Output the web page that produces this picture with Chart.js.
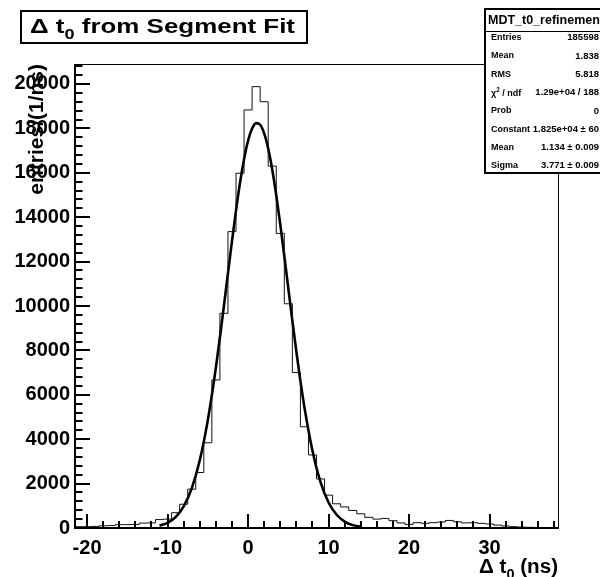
<!DOCTYPE html>
<html>
<head>
<meta charset="utf-8">
<script src="https://cdn.jsdelivr.net/npm/chart.js@4"></script>
<style>
  html, body { margin: 0; padding: 0; background: #fff; }
  #wrap { width: 600px; height: 577px; }
</style>
</head>
<body>
<div id="wrap"><canvas id="t0Chart" width="600" height="577"></canvas></div>
<script>
// histogram bins (centers, ns) and entries
const binCenters = [
	-21, -20, -19, -18, -17, -16, -15, -14, -13, -12,
	-11, -10, -9, -8, -7, -6, -5, -4, -3, -2,
	-1, 0, 1, 2, 3, 4, 5, 6, 7, 8,
	9, 10, 11, 12, 13, 14, 15, 16, 17, 18,
	19, 20, 21, 22, 23, 24, 25, 26, 27, 28,
	29, 30, 31, 32, 33, 34, 35, 36, 37, 38
];
const entries = [
	60, 60, 70, 100, 110, 150, 150, 160, 220, 230,
	380, 400, 690, 1070, 1750, 2500, 3840, 6670, 9670, 13350,
	15980, 18830, 19880, 19200, 16300, 13270, 10100, 7000, 4560, 3290,
	2210, 1480, 1090, 950, 790, 640, 480, 400, 430, 330,
	230, 160, 240, 210, 240, 270, 340, 280, 230, 240,
	210, 180, 130, 90, 60, 40, 30, 20, 20, 20
];

// gaussian fit curve
const fitX = [-11, -10, -9, -8, -7, -6, -5, -4, -3, -2.5, -2, -1.5, -1, -0.5, 0, 0.5, 1, 1.5, 2,
	2.5, 3, 3.5, 4, 4.5, 5, 5.5, 6, 6.5, 7, 8, 9, 10, 11, 12, 13, 14];
const fitY = [103, 233, 493, 971, 1783, 3050, 4860, 7223, 10007, 11472, 12920, 14299, 15550, 16615, 17443, 17994, 18239, 18164, 17775,
	17091, 16148, 14989, 13673, 12253, 10791, 9337, 7937, 6630, 5442, 3479, 2071, 1150, 596, 287, 129, 54];

// axis labels
const xTickLabels = [-20, -10, 0, 10, 20, 30];
const yTickLabels = [0, 2000, 4000, 6000, 8000, 10000, 12000, 14000, 16000, 18000, 20000];

const binWidth = 1;
const xMin = -21.5, xMax = 38.5;
const yMin = 0, yMax = 20900;

const statsTitle = "MDT_t0_refinement";
const statsLabels = ["Entries", "Mean", "RMS", "χ2 / ndf", "Prob", "Constant", "Mean", "Sigma"];
const statsValues = ["185598", "1.838", "5.818", "1.29e+04 / 188", "0", "1.825e+04 ± 60", "1.134 ± 0.009", "3.771 ± 0.009"];

const FONT = "Liberation Sans, Arial, Helvetica, sans-serif";

function histPoints() {
	const pts = [{ x: binCenters[0] - binWidth / 2, y: 0 }];
	binCenters.forEach((c, i) => {
		pts.push({ x: c - binWidth / 2, y: entries[i] });
	});
	const last = binCenters[binCenters.length - 1] + binWidth / 2;
	pts.push({ x: last, y: entries[entries.length - 1] });
	pts.push({ x: last, y: 0 });
	return pts;
}

// text with a sub/superscript piece: parts = [[text, "n"|"sub"|"sup"], ...]
// fitW stretches the whole string horizontally to that width
function richText(ctx, parts, x, y, size, align, fitW) {
	const widths = parts.map(p => {
		ctx.font = `bold ${p[1] === "n" ? size : size * 0.7}px ${FONT}`;
		return ctx.measureText(p[0]).width;
	});
	const total = widths.reduce((a, b) => a + b, 0);
	const sx = fitW ? fitW / total : 1;
	const w = total * sx;
	let cx = align === "right" ? x - w : (align === "center" ? x - w / 2 : x);
	ctx.save();
	ctx.translate(cx, y);
	ctx.scale(sx, 1);
	ctx.textAlign = "left";
	ctx.textBaseline = "alphabetic";
	let px = 0;
	parts.forEach((p, i) => {
		let dy = 0;
		if (p[1] === "sub") dy = size * 0.28;
		if (p[1] === "sup") dy = -size * 0.38;
		ctx.font = `bold ${p[1] === "n" ? size : size * 0.7}px ${FONT}`;
		ctx.fillText(p[0], px, dy);
		px += widths[i];
	});
	ctx.restore();
}

const rootFrame = {
	id: "rootFrame",
	afterDatasetsDraw(chart) {
		const { ctx, chartArea: a, scales: { x, y } } = chart;
		ctx.save();
		ctx.strokeStyle = "#000";

		// frame
		ctx.lineWidth = 1;
		ctx.beginPath();
		ctx.moveTo(a.left, a.top + 0.5);
		ctx.lineTo(a.right + 0.5, a.top + 0.5);
		ctx.lineTo(a.right + 0.5, a.bottom);
		ctx.stroke();
		ctx.lineWidth = 2;
		ctx.beginPath();
		ctx.moveTo(a.left, a.top);
		ctx.lineTo(a.left, a.bottom);
		ctx.lineTo(a.right + 1, a.bottom);
		ctx.stroke();

		// ticks inside the frame
		ctx.lineWidth = 2;
		ctx.beginPath();
		for (let v = -20; v <= xMax; v += 2) {
			const px = Math.round(x.getPixelForValue(v));
			const len = v % 10 === 0 ? 14 : 7;
			ctx.moveTo(px, a.bottom);
			ctx.lineTo(px, a.bottom - len);
		}
		for (let v = 0; v <= yMax; v += 400) {
			const py = Math.round(y.getPixelForValue(v));
			const len = v % 2000 === 0 ? 15 : 7.5;
			ctx.moveTo(a.left, py);
			ctx.lineTo(a.left + len, py);
		}
		ctx.stroke();
		ctx.restore();
	},
	afterDraw(chart) {
		const { ctx, chartArea: a } = chart;
		ctx.save();
		ctx.fillStyle = "#000";

		// axis titles
		richText(ctx, [["Δ t", "n"], ["0", "sub"], [" (ns)", "n"]], a.right, 573, 20, "right", 79);
		ctx.save();
		ctx.translate(43, a.top);
		ctx.rotate(-Math.PI / 2);
		ctx.font = `bold 21px ${FONT}`;
		ctx.textAlign = "right";
		ctx.textBaseline = "alphabetic";
		ctx.fillText("entries/(1/ns)", 0, 0);
		ctx.restore();

		// title box
		ctx.fillStyle = "#fff";
		ctx.fillRect(21, 11, 286, 32);
		ctx.strokeStyle = "#000";
		ctx.lineWidth = 2;
		ctx.strokeRect(21, 11, 286, 32);
		ctx.fillStyle = "#000";
		richText(ctx, [["Δ t", "n"], ["0", "sub"], [" from Segment Fit", "n"]], 30, 33, 21, "left", 265);

		// stats box
		const bx = 485, by = 9, bw = 120, bh = 164;
		ctx.fillStyle = "#fff";
		ctx.fillRect(bx, by, bw, bh);
		ctx.lineWidth = 2;
		ctx.strokeRect(bx, by, bw, bh);
		ctx.lineWidth = 1;
		ctx.beginPath();
		ctx.moveTo(bx, 31.5);
		ctx.lineTo(600, 31.5);
		ctx.stroke();
		ctx.fillStyle = "#000";
		ctx.font = `bold 12.5px ${FONT}`;
		ctx.textAlign = "left";
		ctx.textBaseline = "middle";
		ctx.fillText(statsTitle, 488, 20.5);
		statsLabels.forEach((lab, i) => {
			const ry = 37.7 + i * 18.3;
			if (lab.startsWith("χ2")) {
				richText(ctx, [["χ", "n"], ["2", "sup"], [" / ndf", "n"]], 491, ry + 3, 9, "left");
			} else {
				ctx.font = `bold 9px ${FONT}`;
				ctx.textAlign = "left";
				ctx.textBaseline = "middle";
				ctx.fillText(lab, 491, ry);
			}
			ctx.font = `bold 9.5px ${FONT}`;
			ctx.textAlign = "right";
			ctx.textBaseline = "middle";
			ctx.fillText(statsValues[i], 599, ry);
		});
		ctx.restore();
	}
};

window.addEventListener('DOMContentLoaded', () => {
	const t0Chart = document.getElementById("t0Chart");

	new Chart(t0Chart, {
		type: 'line',
		data: {
			datasets: [{
				label: 'MDT_t0_refinement',
				data: histPoints(),
				stepped: 'before',
				borderColor: '#111',
				borderWidth: 1,
				pointRadius: 0,
				fill: false
			}, {
				label: 'fit',
				data: fitX.map((v, i) => ({ x: v, y: fitY[i] })),
				borderColor: '#000',
				borderWidth: 2.6,
				pointRadius: 0,
				cubicInterpolationMode: 'monotone',
				fill: false
			}]
		},
		options: {
			responsive: false,
			animation: false,
			devicePixelRatio: 1,
			layout: { padding: { top: 64, right: 42, left: 0, bottom: 0 } },
			plugins: { legend: { display: false }, tooltip: { enabled: false } },
			scales: {
				x: {
					type: 'linear',
					min: xMin,
					max: xMax,
					grid: { display: false, drawTicks: false },
					border: { display: false },
					afterBuildTicks: s => { s.ticks = xTickLabels.map(v => ({ value: v })); },
					ticks: {
						padding: 8,
						color: '#000',
						maxRotation: 0,
						autoSkip: false,
						callback: v => String(v),
						font: { family: FONT, size: 20, weight: 'bold' }
					},
					afterFit: s => { s.height = 49; }
				},
				y: {
					min: yMin,
					max: yMax,
					grid: { display: false, drawTicks: false },
					border: { display: false },
					afterBuildTicks: s => { s.ticks = yTickLabels.map(v => ({ value: v })); },
					ticks: {
						padding: 5,
						color: '#000',
						autoSkip: false,
						callback: v => String(v),
						font: { family: FONT, size: 20, weight: 'bold' }
					},
					afterFit: s => { s.width = 75; }
				}
			}
		},
		plugins: [rootFrame]
	});
});
</script>
</body>
</html>
